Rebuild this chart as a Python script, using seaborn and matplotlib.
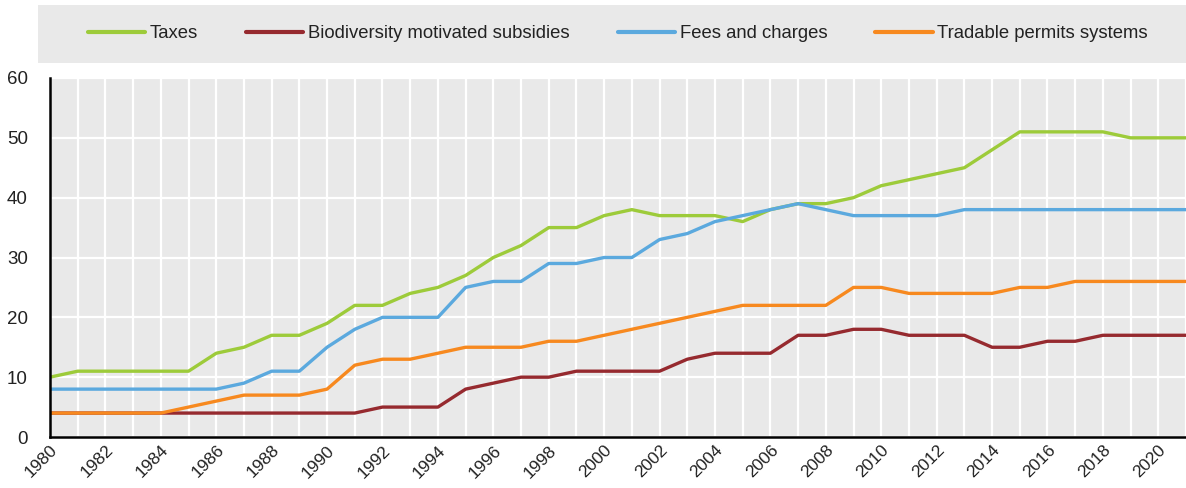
import numpy as np
import pandas as pd
import matplotlib
matplotlib.use("Agg")
import matplotlib.pyplot as plt
import seaborn as sns
from matplotlib.patches import Rectangle

# ==========================================
# DATA
# ==========================================
years = list(range(1980, 2022))

taxes = [10, 11, 11, 11, 11, 11, 14, 15, 17, 17,
         19, 22, 22, 24, 25, 27, 30, 32, 35, 35,
         37, 38, 37, 37, 37, 36, 38, 39, 39, 40,
         42, 43, 44, 45, 48, 51, 51, 51, 51, 50,
         50, 50]
subsidies = [4, 4, 4, 4, 4, 4, 4, 4, 4, 4,
             4, 4, 5, 5, 5, 8, 9, 10, 10, 11,
             11, 11, 11, 13, 14, 14, 14, 17, 17, 18,
             18, 17, 17, 17, 15, 15, 16, 16, 17, 17,
             17, 17]
fees = [8, 8, 8, 8, 8, 8, 8, 9, 11, 11,
        15, 18, 20, 20, 20, 25, 26, 26, 29, 29,
        30, 30, 33, 34, 36, 37, 38, 39, 38, 37,
        37, 37, 37, 38, 38, 38, 38, 38, 38, 38,
        38, 38]
permits = [4, 4, 4, 4, 4, 5, 6, 7, 7, 7,
           8, 12, 13, 13, 14, 15, 15, 15, 16, 16,
           17, 18, 19, 20, 21, 22, 22, 22, 22, 25,
           25, 24, 24, 24, 24, 25, 25, 26, 26, 26,
           26, 26]

series_names = ["Taxes", "Biodiversity motivated subsidies",
                "Fees and charges", "Tradable permits systems"]
series_values = [taxes, subsidies, fees, permits]
colors = ["#9DCB3A", "#962A2F", "#5BA9DE", "#F7891F"]

y_ticks = [0, 10, 20, 30, 40, 50, 60]

# ==========================================
# BUILD LONG TABLE
# ==========================================
frames = []
for name, vals in zip(series_names, series_values):
    frames.append(pd.DataFrame({"year": years, "value": vals, "series": name}))
df = pd.concat(frames, ignore_index=True)

# ==========================================
# PLOT
# ==========================================
sns.set_style("white")
plt.rcParams["font.family"] = ["Liberation Sans", "DejaVu Sans"]

fig = plt.figure(figsize=(11.86, 4.88), dpi=100)
ax = fig.add_axes([50 / 1186, 1 - 437 / 488, 1 - 50 / 1186, (437 - 78) / 488])
ax.set_facecolor("#E9E9E9")

sns.lineplot(data=df, x="year", y="value", hue="series",
             palette=dict(zip(series_names, colors)),
             hue_order=series_names, linewidth=2.4, ax=ax, zorder=3)

ax.set_xlim(years[0], years[-1])
ax.set_ylim(0, 60)
ax.set_xlabel("")
ax.set_ylabel("")

ax.set_xticks(years)
ax.set_xticklabels([str(y) if y % 2 == 0 else "" for y in years],
                   rotation=45, ha="right", rotation_mode="anchor")
ax.set_yticks(y_ticks)
ax.tick_params(axis="x", direction="in", length=6, width=1.3, color="black",
               labelsize=12.5, pad=4, labelcolor="#222222")
ax.tick_params(axis="y", length=0, labelsize=13.5, pad=16, labelcolor="#222222")

ax.grid(True, color="white", linewidth=1.6, zorder=1)
ax.set_axisbelow(True)

for side in ["top", "right"]:
    ax.spines[side].set_visible(False)
for side in ["left", "bottom"]:
    ax.spines[side].set_color("black")
    ax.spines[side].set_linewidth(1.8)
    ax.spines[side].set_zorder(4)

# legend in a grey band on top
ax.get_legend().remove()
fig.patches.append(Rectangle((38 / 1186, 1 - 63 / 488), 1 - 38 / 1186, 58 / 488,
                             transform=fig.transFigure, facecolor="#E9E9E9",
                             edgecolor="none", zorder=0))
handles = [plt.Line2D([], [], color=c, linewidth=3) for c in colors]
fig.legend(handles, series_names, loc="center", ncol=4,
           bbox_to_anchor=(0.521, 1 - 34 / 488), frameon=False,
           fontsize=13.3, handlelength=3.1, handletextpad=0.25,
           columnspacing=2.6, labelcolor="#222222")

fig.savefig("out.png", dpi=100)
